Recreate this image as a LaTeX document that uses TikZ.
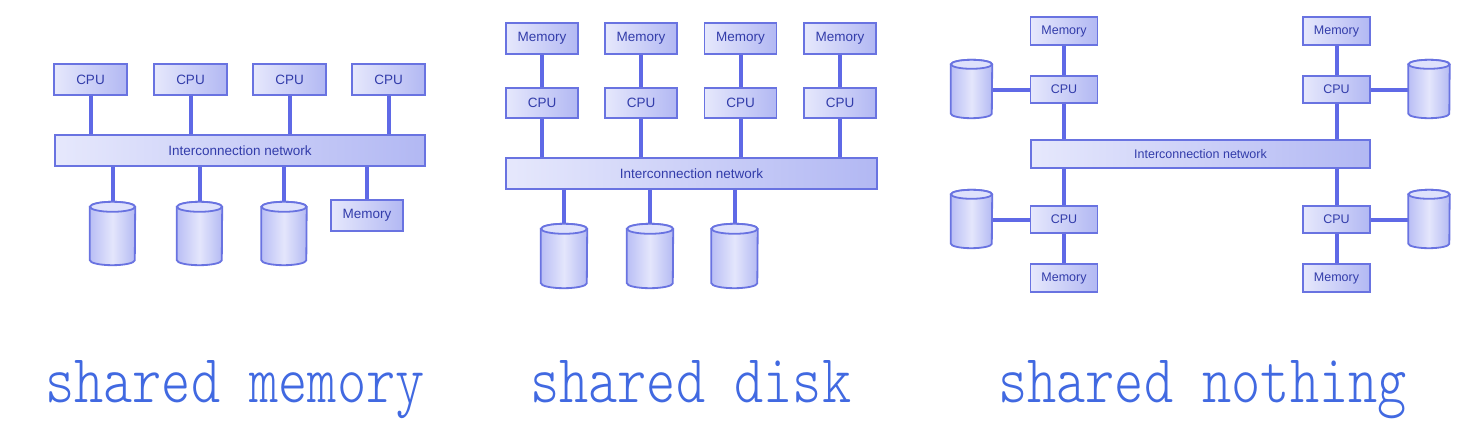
\documentclass[tikz,border=0pt]{standalone}
\usepackage{fontspec}
\setmainfont{Liberation Sans}
\newfontfamily\capfont{Latin Modern Mono Light}
\usetikzlibrary{calc}
\definecolor{boxL}{RGB}{230,232,252}
\definecolor{boxR}{RGB}{178,184,243}
\definecolor{boxline}{RGB}{105,115,225}
\definecolor{conn}{RGB}{95,105,230}
\definecolor{txt}{RGB}{50,60,170}
\definecolor{cylL}{RGB}{185,190,245}
\definecolor{cylM}{RGB}{228,230,252}
\definecolor{cylR}{RGB}{180,186,243}
\definecolor{cylT}{RGB}{222,225,252}
\definecolor{capc}{RGB}{65,105,225}
\tikzset{
  x=1pt,y=1pt,
  unit/.style={draw=boxline, line width=1.8pt, left color=boxL, right color=boxR,
    inner sep=0pt, text=txt, font=\fontsize{13.5}{15}\selectfont},
  unitsm/.style={unit, font=\fontsize{12.5}{14}\selectfont},
  drumslot/.style={inner sep=0pt, draw=none},
  drumbody/.style={draw=boxline, line width=1.8pt, left color=cylL, right color=cylR, middle color=cylM},
  drumtop/.style={draw=boxline, line width=1.8pt, fill=cylT},
  link/.style={draw=conn, line width=4pt},
  caption/.style={text=capc, inner sep=0pt, font=\capfont\fontsize{55}{60}\selectfont}
}
% #1 node name, #2 half width (pt), #3 ellipse y radius (pt)
\newcommand\drawdrum[3]{%
  \path[drumbody] ($(#1.north west)+(0,-#3)$) -- ($(#1.south west)+(0,#3)$)
    arc[start angle=180,end angle=360,x radius=#2pt,y radius=#3pt]
    -- ($(#1.north east)+(0,-#3)$)
    arc[start angle=0,end angle=180,x radius=#2pt,y radius=#3pt] -- cycle;
  \path[drumtop] ($(#1.north)+(0,-#3)$) ellipse[x radius=#2pt,y radius=#3pt];}
\begin{document}
\begin{tikzpicture}
\useasboundingbox[fill=white] (0,0) rectangle (1479,-447);

% ---------- shared memory ----------
\foreach \i/\x in {1/90.5,2/190.5,3/289.5,4/388.5}
  \node[unit, minimum width=73pt, minimum height=31pt] (a\i) at (\x,-79.5) {CPU};
\node[unit, minimum width=370pt, minimum height=31pt] (abar) at (240,-150.5) {Interconnection network};
\foreach \i/\x in {1/112.5,2/199.5,3/284}
  \node[drumslot, minimum width=45pt, minimum height=63pt] (ad\i) at (\x,-233.5) {};
\node[unit, minimum width=72pt, minimum height=31pt] (amem) at (367,-215.5) {Memory};
\foreach \i in {1,2,3,4}
  \draw[link] (a\i.south) -- (a\i.south |- abar.north);
\foreach \i in {1,2,3}
  \draw[link] (ad\i.north |- abar.south) -- (ad\i.north);
\draw[link] (amem.north |- abar.south) -- (amem.north);
\foreach \i in {1,2,3} {\drawdrum{ad\i}{22.5}{5}}

% ---------- shared disk ----------
\foreach \i/\x in {1/542,2/641,3/740.5,4/840} {
  \node[unit, minimum width=72pt, minimum height=31pt] (bm\i) at (\x,-38.5) {Memory};
  \node[unit, minimum width=72pt, minimum height=30pt] (bc\i) at (\x,-103) {CPU};
}
\node[unit, minimum width=371pt, minimum height=31pt] (bbar) at (691.5,-173.5) {Interconnection network};
\foreach \i/\x in {1/564,2/650,3/734.5}
  \node[drumslot, minimum width=46pt, minimum height=64pt] (bd\i) at (\x,-256) {};
\foreach \i in {1,2,3,4} {
  \draw[link] (bm\i.south) -- (bc\i.north);
  \draw[link] (bc\i.south) -- (bc\i.south |- bbar.north);
}
\foreach \i in {1,2,3}
  \draw[link] (bd\i.north |- bbar.south) -- (bd\i.north);
\foreach \i in {1,2,3} {\drawdrum{bd\i}{23}{5}}

% ---------- shared nothing ----------
\foreach \s/\x in {l/1064,r/1336.5} {
  \node[unitsm, minimum width=67pt, minimum height=28pt] (cmt\s) at (\x,-31) {Memory};
  \node[unitsm, minimum width=67pt, minimum height=27pt] (cct\s) at (\x,-89.5) {CPU};
  \node[unitsm, minimum width=67pt, minimum height=27pt] (ccb\s) at (\x,-219.5) {CPU};
  \node[unitsm, minimum width=67pt, minimum height=28pt] (cmb\s) at (\x,-278) {Memory};
}
\node[unitsm, minimum width=339pt, minimum height=28pt] (cbar) at (1200.5,-154) {Interconnection network};
\foreach \s/\x in {l/971.5,r/1429} {
  \node[drumslot, minimum width=41pt, minimum height=58pt] (cdt\s) at (\x,-89) {};
  \node[drumslot, minimum width=41pt, minimum height=58pt] (cdb\s) at (\x,-219) {};
}
\foreach \s in {l,r} {
  \draw[link] (cmt\s.south) -- (cct\s.north);
  \draw[link] (cct\s.south) -- (cct\s.south |- cbar.north);
  \draw[link] (ccb\s.north |- cbar.south) -- (ccb\s.north);
  \draw[link] (ccb\s.south) -- (cmb\s.north);
}
\draw[link] (cctl.west) -- (cctl.west -| cdtl.east);
\draw[link] (ccbl.west) -- (ccbl.west -| cdbl.east);
\draw[link] (cctr.east) -- (cctr.east -| cdtr.west);
\draw[link] (ccbr.east) -- (ccbr.east -| cdbr.west);
\foreach \n in {cdtl,cdbl,cdtr,cdbr} {\drawdrum{\n}{20.5}{4.5}}

% ---------- captions ----------
\node[caption, anchor=base west] (cap1) at (45,-402) {\scalebox{1.011}[1.25]{shared memory}};
\node[caption, anchor=base west] (cap2) at (530,-402) {\scalebox{1.011}[1.25]{shared disk}};
\node[caption, anchor=base west] (cap3) at (998,-402) {\scalebox{1.011}[1.25]{shared nothing}};
\end{tikzpicture}
\end{document}
